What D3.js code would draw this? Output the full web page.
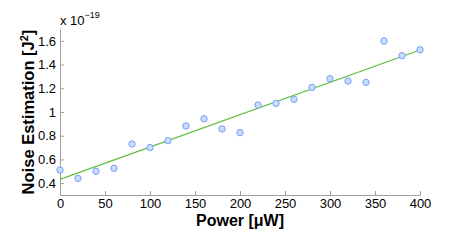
<!DOCTYPE html>
<html>
<head>
<meta charset="utf-8">
<script src="https://cdn.jsdelivr.net/npm/d3@7"></script>
<style>
  body { margin: 0; background: #fff; }
  text { font-family: "Liberation Sans", Arial, sans-serif; }
</style>
</head>
<body>
<script>
// data (noise in units of 1e-19 J^2)
const power = [0, 20, 40, 60, 80, 100, 120, 140, 160, 180, 200, 220, 240, 260, 280, 300, 320, 340, 360, 380, 400];
const noise = [0.51, 0.44, 0.50, 0.525, 0.73, 0.70, 0.758, 0.882, 0.943, 0.857, 0.826, 1.059, 1.073, 1.107, 1.208, 1.281, 1.261, 1.25, 1.599, 1.475, 1.525];
// fitted line end points
const fitX = [0, 400];
const fitY = [0.432, 1.523];
const xTicks = [0, 50, 100, 150, 200, 250, 300, 350, 400];
const yTicks = [0.4, 0.6, 0.8, 1, 1.2, 1.4, 1.6];

const width = 463;
const height = 243;
const margin = ({top: 29, right: 43, bottom: 48, left: 60});

const svg = d3.select('body').append('svg')
    .attr('width', width)
    .attr('height', height);

const x = d3.scaleLinear()
    .domain([0, 400])
    .range([margin.left, width - margin.right]);
const y = d3.scaleLinear()
    .domain([0.3, 1.7])
    .range([height - margin.bottom, margin.top]);

// axes, matlab style ticks pointing inwards
const xAxis = d3.axisBottom(x)
    .tickValues(xTicks)
    .tickSizeInner(-4)
    .tickSizeOuter(0)
    .tickPadding(4)
    .tickFormat(d3.format(""));
const yAxis = d3.axisLeft(y)
    .tickValues(yTicks)
    .tickSizeInner(-4)
    .tickSizeOuter(0)
    .tickPadding(4)
    .tickFormat(d => d3.format("")(+d.toFixed(1)));

function styleAxis(g) {
    g.select(".domain").attr("stroke", "#a0a0a0");
    g.selectAll(".tick line").attr("stroke", "#a0a0a0");
    g.selectAll(".tick text")
        .attr("fill", "#000")
        .style("font-size", "13px")
        .style("font-family", "'Liberation Sans', Arial, sans-serif");
}

svg.append("g")
    .attr("transform", `translate(0,${height - margin.bottom})`)
    .call(xAxis)
    .call(styleAxis);
svg.append("g")
    .attr("transform", `translate(${margin.left},0)`)
    .call(yAxis)
    .call(styleAxis);

// fit line
const line = d3.line()
    .x(d => x(d[0]))
    .y(d => y(d[1]));
svg.append("path")
    .datum(d3.zip(fitX, fitY))
    .attr("d", line)
    .attr("fill", "none")
    .attr("stroke", "#5cbf3c")
    .attr("stroke-width", 1.2);

// measured points
svg.append("g")
    .selectAll("circle")
    .data(d3.zip(power, noise))
    .join("circle")
    .attr("cx", d => x(d[0]))
    .attr("cy", d => y(d[1]))
    .attr("r", 3.2)
    .attr("fill", "#c8dcff")
    .attr("stroke", "#7c9ff2")
    .attr("stroke-width", 1);

// exponent label
const expo = svg.append("text")
    .attr("x", margin.left)
    .attr("y", 25)
    .style("font-size", "13px");
expo.append("tspan").text("x 10");
expo.append("tspan")
    .attr("dy", -7)
    .style("font-size", "9px")
    .text("\u221219");

// axis titles
svg.append("text")
    .attr("x", 240)
    .attr("y", 226)
    .attr("text-anchor", "middle")
    .style("font-size", "16px")
    .style("font-weight", "bold")
    .text("Power [\u03bcW]");

const yt = svg.append("text")
    .attr("transform", "translate(34,112) rotate(-90)")
    .attr("text-anchor", "middle")
    .style("font-size", "16.5px")
    .style("font-weight", "bold");
yt.append("tspan").text("Noise Estimation [J");
yt.append("tspan").attr("dy", -6).style("font-size", "11px").text("2");
yt.append("tspan").attr("dy", 6).text("]");
</script>
</body>
</html>
